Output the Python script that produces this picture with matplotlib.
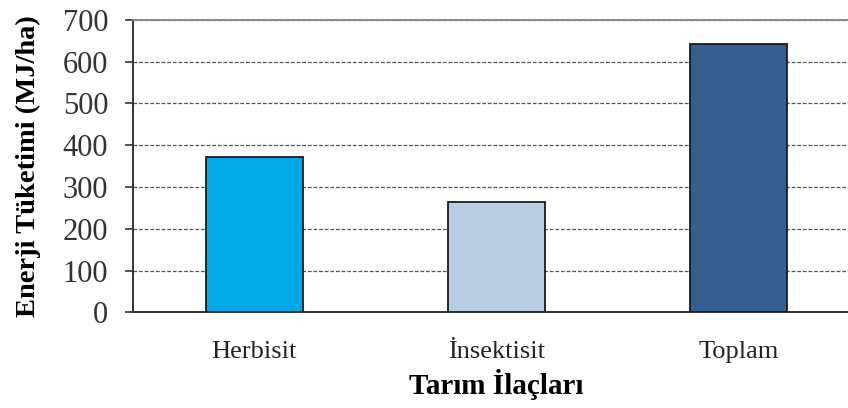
import matplotlib.pyplot as plt
import numpy as np

# Pesticide energy use per hectare
categories = ["Herbisit", "İnsektisit", "Toplam"]
energy = [372, 265, 643]
bar_colors = ["#00AAE9", "#B9CDE5", "#355E91"]

y_ticks = [0, 100, 200, 300, 400, 500, 600, 700]

plt.rcParams['font.family'] = ['Liberation Serif', 'DejaVu Serif']

fig = plt.figure(figsize=(8.48, 4.08), dpi=100)
# axes runs slightly past the right edge of the figure
ax = fig.add_axes([133.3 / 848, (408 - 312.3) / 408, 726 / 848, 292.6 / 408])

x = np.arange(len(categories))
ax.bar(x, energy, width=0.4, color=bar_colors, edgecolor="#1a1a1a",
       linewidth=1.3, zorder=3)

ax.set_xlim(-0.5, 2.5)
ax.set_ylim(0, 700)
ax.set_yticks(y_ticks)
ax.set_xticks(x)
ax.set_xticklabels(categories)

ax.yaxis.grid(True, linestyle=(0, (3, 1.5)), color="#555555", linewidth=0.9,
              zorder=0)
ax.tick_params(axis="y", labelsize=22, length=6, width=1.2, pad=12,
               color="#333333", labelcolor="#333333")
ax.tick_params(axis="x", labelsize=19, length=0, pad=21, labelcolor="#222222")

for side in ["left", "bottom"]:
    ax.spines[side].set_color("#333333")
    ax.spines[side].set_linewidth(1.4)
ax.spines["top"].set_color("#888888")
ax.spines["top"].set_linewidth(1.4)
ax.spines["right"].set_visible(False)

ax.set_ylabel("Enerji Tüketimi (MJ/ha)", fontsize=20.5, fontweight="bold",
              labelpad=16)
ax.set_xlabel("Tarım İlaçları", fontsize=21, fontweight="bold", labelpad=4)

fig.savefig("out.png", dpi=100)
